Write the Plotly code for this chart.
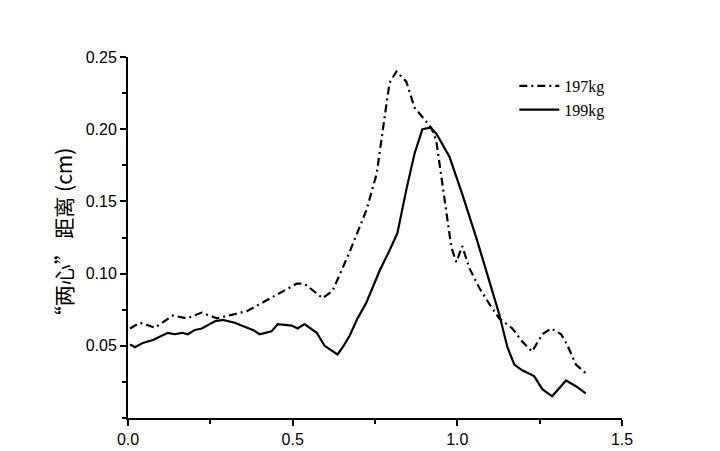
import plotly.graph_objects as go

x_197 = [0.006, 0.036, 0.082, 0.136, 0.179, 0.224, 0.27, 0.309, 0.361, 0.409, 0.47, 0.512, 0.536,
         0.591, 0.621, 0.673, 0.724, 0.755, 0.779, 0.794, 0.815, 0.845, 0.87, 0.906, 0.921, 0.936,
         0.952, 0.967, 0.982, 0.997, 1.015, 1.036, 1.067, 1.097, 1.127, 1.167, 1.197, 1.227, 1.258,
         1.285, 1.315, 1.333, 1.36, 1.39]
y_197 = [0.062, 0.066, 0.0625, 0.071, 0.069, 0.073, 0.069, 0.071, 0.074, 0.080, 0.088, 0.093, 0.093,
         0.083, 0.088, 0.115, 0.144, 0.169, 0.208, 0.232, 0.240, 0.233, 0.215, 0.205, 0.201, 0.192,
         0.165, 0.140, 0.118, 0.108, 0.119, 0.104, 0.090, 0.079, 0.069, 0.062, 0.053, 0.046, 0.058,
         0.062, 0.058, 0.051, 0.037, 0.031]

x_199 = [0.006, 0.021, 0.045, 0.076, 0.121, 0.142, 0.164, 0.182, 0.203, 0.224, 0.264, 0.288, 0.324,
         0.361, 0.379, 0.4, 0.436, 0.455, 0.497, 0.515, 0.536, 0.573, 0.597, 0.636, 0.652, 0.673,
         0.697, 0.724, 0.764, 0.794, 0.818, 0.845, 0.87, 0.894, 0.918, 0.936, 0.976, 1.015, 1.06,
         1.106, 1.127, 1.152, 1.173, 1.197, 1.233, 1.258, 1.288, 1.33, 1.36, 1.39]
y_199 = [0.051, 0.049, 0.052, 0.054, 0.059, 0.058, 0.059, 0.058, 0.061, 0.062, 0.067, 0.068, 0.066,
         0.063, 0.061, 0.058, 0.060, 0.065, 0.064, 0.062, 0.065, 0.059, 0.050, 0.044, 0.049, 0.057,
         0.069, 0.080, 0.102, 0.116, 0.128, 0.158, 0.183, 0.200, 0.201, 0.197, 0.181, 0.155, 0.123,
         0.088, 0.072, 0.049, 0.037, 0.033, 0.029, 0.020, 0.015, 0.026, 0.022, 0.017]

x_ticks = [0.0, 0.5, 1.0, 1.5]
x_ticklabels = ["0.0", "0.5", "1.0", "1.5"]
y_ticks = [0.05, 0.10, 0.15, 0.20, 0.25]
y_ticklabels = ["0.05", "0.10", "0.15", "0.20", "0.25"]

fig = go.Figure()
fig.add_trace(go.Scatter(x=x_197, y=y_197, mode="lines", name="197kg",
                         line=dict(color="black", width=2.2, dash="8px,4px,2px,4px")))
fig.add_trace(go.Scatter(x=x_199, y=y_199, mode="lines", name="199kg",
                         line=dict(color="black", width=2.2)))

fig.update_layout(
    width=712, height=443,
    margin=dict(l=120, r=98, t=49, b=33, autoexpand=False),
    paper_bgcolor="white", plot_bgcolor="white",
    showlegend=True,
    legend=dict(x=0.782, y=0.967, xanchor="left", yanchor="top",
                font=dict(family="Liberation Serif", size=16, color="black"),
                bgcolor="rgba(0,0,0,0)", tracegroupgap=0, itemwidth=40),
    font=dict(family="Liberation Sans", size=16, color="black"),
)
fig.update_xaxes(range=[0, 1.5], tickvals=x_ticks, ticktext=x_ticklabels, automargin=False,
                 showline=True, linecolor="black", linewidth=2, showgrid=False, zeroline=False,
                 ticks="outside", ticklen=6, tickwidth=2, tickcolor="black",
                 minor=dict(tickvals=[0.25, 0.75, 1.25], ticks="outside", ticklen=4, tickwidth=2,
                            tickcolor="black"),
                 tickfont=dict(family="Liberation Sans", size=16, color="black"))
fig.update_yaxes(range=[0, 0.25], tickvals=y_ticks, ticktext=y_ticklabels, automargin=False,
                 showline=True, linecolor="black", linewidth=2, showgrid=False, zeroline=False,
                 ticks="outside", ticklen=6, tickwidth=2, tickcolor="black",
                 minor=dict(tickvals=[0.0, 0.025, 0.075, 0.125, 0.175, 0.225], ticks="outside",
                            ticklen=4, tickwidth=2, tickcolor="black"),
                 tickfont=dict(family="Liberation Sans", size=16, color="black"),
                 title=dict(text="“两心” 距离 (cm)",
                            font=dict(family="Noto Sans CJK SC", size=21, color="black"),
                            standoff=7))

fig.write_html("out.html")
